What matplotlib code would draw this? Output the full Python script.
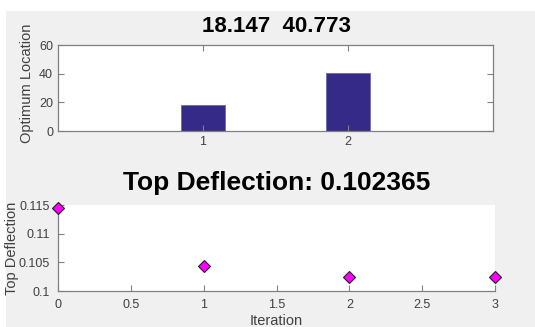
import matplotlib
matplotlib.use('Agg')
import matplotlib.pyplot as plt
from matplotlib.patches import Rectangle

plt.rcParams['font.family'] = ['Liberation Sans', 'DejaVu Sans']

# optimum locations per design variable
locations = [1, 2]
optimum = [18.147, 40.773]

# top deflection history
iterations = [0, 1, 2, 3]
deflection = [0.11455, 0.10430, 0.10250, 0.102365]

W, H = 535, 327
AX_GRAY = '#808080'
TXT_GRAY = '#404040'


def px_box(left, top, right, bottom):
    return [left / W, (H - bottom) / H, (right - left) / W, (bottom - top) / H]


fig = plt.figure(figsize=(W / 100, H / 100), dpi=100, facecolor='white')
fig.patches.append(Rectangle((6 / W, 0), (W - 6) / W, (H - 11) / H,
                             transform=fig.transFigure, facecolor='#f0f0f0',
                             edgecolor='none', zorder=-10))

# bar chart of optimum locations
ax1 = fig.add_axes(px_box(58, 45, 493, 131))
ax1.bar(locations, optimum, width=0.3, color='#352a87', edgecolor='#6a6ab0', linewidth=0.6)
ax1.set_xlim(0, 3)
ax1.set_ylim(0, 60)
ax1.set_xticks([1, 2])
ax1.set_yticks([0, 20, 40, 60])
ax1.tick_params(direction='in', length=4, width=0.8, colors=AX_GRAY,
                labelcolor=TXT_GRAY, labelsize=9, top=True, right=True)
for s in ax1.spines.values():
    s.set_color(AX_GRAY)
    s.set_linewidth(0.9)
ax1.set_ylabel('Optimum Location', fontsize=10.5, color=TXT_GRAY)
ax1.yaxis.set_label_coords(-0.055, 0.55)
fig.text(276 / W, 1 - 27 / H, '  '.join(f'{v:.3f}' for v in optimum),
         ha='center', va='center', fontsize=16, fontweight='bold')

# deflection per iteration
ax2 = fig.add_axes(px_box(58, 205, 495, 291))
ax2.plot(iterations, deflection, linestyle='none', marker='D', markersize=6,
         markerfacecolor='#ff00ff', markeredgecolor='#202020', markeredgewidth=0.8,
         clip_on=False, zorder=5)
ax2.set_xlim(0, 3)
ax2.set_ylim(0.1, 0.115)
ax2.set_xticks([0, 0.5, 1, 1.5, 2, 2.5, 3])
ax2.set_xticklabels(['0', '0.5', '1', '1.5', '2', '2.5', '3'])
ax2.set_yticks([0.1, 0.105, 0.11, 0.115])
ax2.set_yticklabels(['0.1', '0.105', '0.11', '0.115'])
ax2.tick_params(direction='in', length=4, width=0.8, colors=AX_GRAY,
                labelcolor=TXT_GRAY, labelsize=9)
ax2.tick_params(axis='x', pad=6)
ax2.tick_params(axis='y', pad=6)
ax2.spines['top'].set_visible(False)
ax2.spines['right'].set_visible(False)
for side in ('left', 'bottom'):
    ax2.spines[side].set_color(AX_GRAY)
    ax2.spines[side].set_linewidth(0.9)
ax2.set_ylabel('Top Deflection', fontsize=10.5, color=TXT_GRAY)
ax2.yaxis.set_label_coords(-0.089, 0.5)
ax2.set_xlabel('Iteration', fontsize=10.5, color=TXT_GRAY)
ax2.xaxis.set_label_coords(0.5, -0.27)
fig.text(277 / W, 1 - 183 / H, f'Top Deflection: {deflection[-1]:g}',
         ha='center', va='center', fontsize=19, fontweight='bold')

fig.savefig('out.png', dpi=100)
